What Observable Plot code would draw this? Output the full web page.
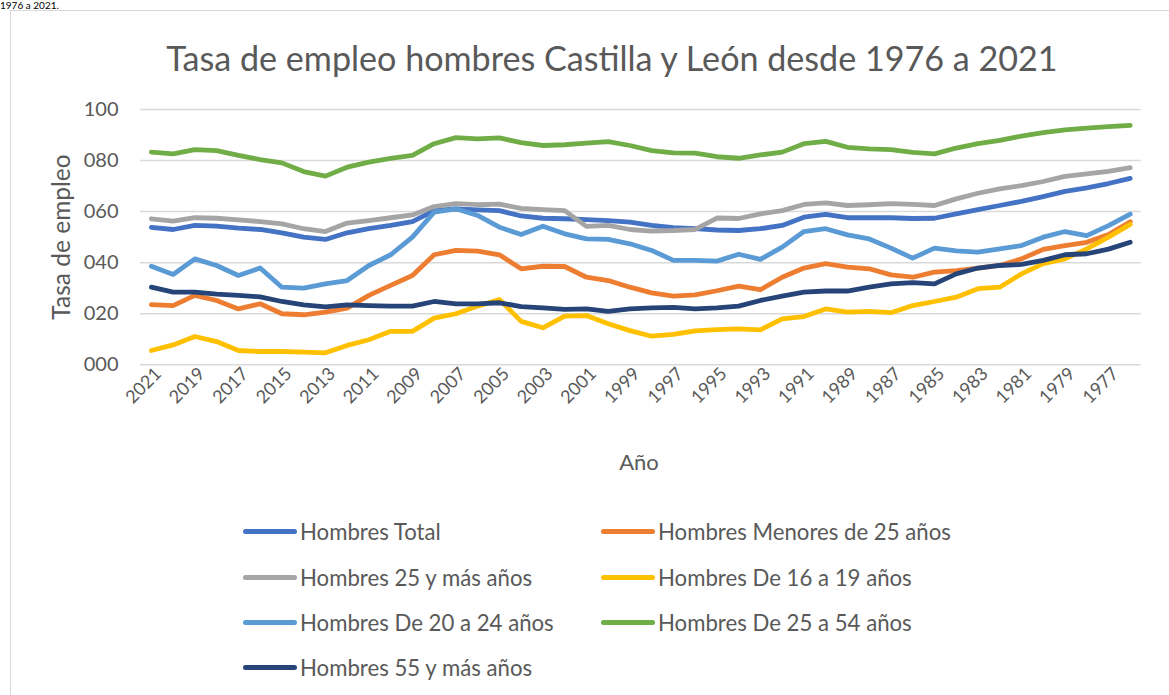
<!DOCTYPE html>
<html>
<head>
<meta charset="utf-8">
<script src="https://cdn.jsdelivr.net/npm/d3@7"></script>
<script src="https://cdn.jsdelivr.net/npm/@observablehq/plot@0.6"></script>
<style>
  body { margin: 0; background: #fff; font-family: Lato, "Open Sans", sans-serif; }
  #wrap { position: relative; width: 1169px; height: 695px; overflow: hidden; background: #fff; }
  #frame { position: absolute; left: 10px; top: 10px; width: 1200px; height: 720px; border: 1px solid #d9d9d9; box-sizing: border-box; }
  #cut { position: absolute; left: 0; top: 0px; font-size: 10px; line-height: 1; color: #000; white-space: nowrap; }
  #title { position: absolute; left: 0; width: 1224px; top: 41px; text-align: center; color: #595959; white-space: nowrap; line-height: 1; }
  #chart { position: absolute; left: 0; top: 90px; }
  #ylab { position: absolute; left: 60px; top: 237px; transform: translate(-50%, -50%) rotate(-90deg); font-size: 24.5px; color: #595959; white-space: nowrap; }
  #xlab { position: absolute; left: 639px; top: 461px; transform: translate(-50%, -50%); font-size: 22px; color: #595959; white-space: nowrap; }
  .leg { position: absolute; display: flex; align-items: center; font-size: 22.2px; color: #595959; white-space: nowrap; }
  .sw { width: 54px; height: 5px; border-radius: 3px; margin-right: 3px; }
</style>
</head>
<body>
<div id="wrap">
  <div id="frame"></div>
  <div id="cut">1976 a 2021.</div>
  <div id="title">Tasa de empleo hombres Castilla y León desde 1976 a 2021</div>
  <div id="chart"></div>
  <div id="ylab">Tasa de empleo</div>
  <div id="xlab">Año</div>
  <div id="legend"></div>
</div>
<script>
// ---- Data ----
const years = d3.range(2021, 1975, -1); // 2021 ... 1976

const seriesNames = [
  "Hombres Total",
  "Hombres Menores de 25 años",
  "Hombres 25 y más años",
  "Hombres De 16 a 19 años",
  "Hombres De 20 a 24 años",
  "Hombres De 25 a 54 años",
  "Hombres 55 y más años"
];

const seriesColors = ["#4472C4", "#ED7D31", "#A5A5A5", "#FFC000", "#5B9BD5", "#70AD47", "#264478"];

const total = [53.8, 53.0, 54.6, 54.3, 53.5, 53.0, 51.7, 50.0, 49.1, 51.7, 53.3, 54.6, 56.1, 60.4, 61.1, 60.7, 60.4, 58.3, 57.4, 57.2, 56.9, 56.5, 55.9, 54.6, 53.7, 53.3, 52.8, 52.6, 53.3, 54.6, 57.8, 58.9, 57.6, 57.6, 57.6, 57.3, 57.4, 59.1, 60.8, 62.4, 64.0, 65.9, 67.9, 69.3, 71.0, 73.0];

const menores25 = [23.6, 23.2, 27.2, 25.2, 21.9, 23.9, 20.0, 19.6, 20.6, 22.2, 27.2, 31.1, 35.0, 43.1, 44.8, 44.5, 43.1, 37.6, 38.6, 38.5, 34.3, 33.0, 30.4, 28.2, 26.9, 27.4, 29.0, 30.8, 29.4, 34.3, 37.9, 39.6, 38.3, 37.6, 35.2, 34.3, 36.3, 36.9, 37.9, 38.9, 41.5, 45.2, 46.7, 48.0, 51.0, 56.0];

const mas25 = [57.2, 56.3, 57.6, 57.4, 56.8, 56.1, 55.2, 53.3, 52.2, 55.5, 56.5, 57.6, 58.7, 62.0, 63.1, 62.7, 62.9, 61.3, 60.8, 60.4, 54.2, 54.6, 53.0, 52.4, 52.6, 53.0, 57.5, 57.3, 59.1, 60.4, 62.8, 63.4, 62.4, 62.7, 63.1, 62.8, 62.4, 65.0, 67.2, 68.9, 70.2, 71.8, 73.8, 74.8, 75.8, 77.2];

const de16a19 = [5.6, 7.8, 11.1, 9.1, 5.6, 5.2, 5.2, 5.0, 4.7, 7.6, 9.8, 13.1, 13.1, 18.3, 20.0, 23.0, 25.6, 17.0, 14.5, 19.1, 19.3, 16.1, 13.4, 11.2, 11.9, 13.3, 13.8, 14.1, 13.7, 18.0, 18.9, 21.9, 20.6, 20.9, 20.4, 23.2, 24.8, 26.5, 29.8, 30.4, 35.6, 39.6, 41.5, 45.4, 50.0, 55.0];

const de20a24 = [38.6, 35.4, 41.5, 38.9, 35.0, 37.9, 30.4, 30.0, 31.7, 33.0, 38.9, 43.1, 50.0, 59.8, 61.1, 58.5, 53.9, 51.0, 54.3, 51.3, 49.3, 49.1, 47.4, 44.8, 40.9, 40.9, 40.6, 43.3, 41.3, 46.1, 52.2, 53.3, 50.9, 49.3, 45.7, 41.8, 45.7, 44.6, 44.1, 45.4, 46.7, 50.0, 52.2, 50.6, 54.5, 59.0];

const de25a54 = [83.3, 82.6, 84.3, 83.9, 82.0, 80.4, 79.1, 75.7, 73.9, 77.4, 79.4, 80.9, 82.0, 86.6, 89.0, 88.5, 88.9, 87.0, 85.9, 86.2, 86.8, 87.4, 85.9, 83.9, 83.0, 82.9, 81.5, 80.9, 82.2, 83.3, 86.6, 87.5, 85.2, 84.6, 84.3, 83.2, 82.6, 84.9, 86.6, 87.9, 89.6, 90.9, 92.0, 92.7, 93.3, 93.8];

const mas55 = [30.4, 28.5, 28.5, 27.7, 27.2, 26.6, 24.8, 23.5, 22.7, 23.5, 23.2, 23.0, 23.0, 24.8, 23.9, 23.9, 24.3, 22.8, 22.3, 21.7, 21.9, 20.9, 21.9, 22.3, 22.5, 21.9, 22.3, 23.0, 25.2, 26.9, 28.5, 28.9, 28.9, 30.4, 31.7, 32.2, 31.7, 35.6, 37.9, 38.9, 39.3, 40.9, 43.1, 43.5, 45.3, 48.0];

const yTicks = [0, 20, 40, 60, 80, 100];
const xTicks = years.filter(y => (2021 - y) % 2 === 0);

// ---- Build long table for Plot ----
const seriesValues = [total, menores25, mas25, de16a19, de20a24, de25a54, mas55];
const rows = [];
seriesNames.forEach((name, s) => {
  years.forEach((yr, i) => rows.push({ serie: name, year: yr, value: seriesValues[s][i] }));
});

// ---- Title sizing (fit to reference width) ----
(function fitTitle() {
  const el = document.getElementById("title");
  const ctx = document.createElement("canvas").getContext("2d");
  ctx.font = "100px Lato";
  const w = ctx.measureText(el.textContent).width;
  el.style.fontSize = (100 * 893 / w).toFixed(2) + "px";
})();

// ---- Chart ----
const chart = Plot.plot({
  width: 1169,
  height: 350,
  marginLeft: 140,
  marginRight: 28.4,
  marginTop: 19,
  marginBottom: 75.7,
  style: { fontFamily: "Lato, sans-serif", color: "#595959", background: "transparent", overflow: "visible" },
  x: { type: "point", domain: years, padding: 0.5 },
  y: { domain: [0, 100] },
  color: { domain: seriesNames, range: seriesColors },
  marks: [
    Plot.gridY(yTicks, { stroke: "#d9d9d9", strokeOpacity: 1, strokeWidth: 1.5 }),
    Plot.axisY(yTicks, { tickSize: 0, tickPadding: 22, tickFormat: d3.format("03d"), fontSize: 20, label: null }),
    Plot.axisX(xTicks, { tickSize: 0, tickPadding: 6, tickRotate: -45, tickFormat: d => String(d), fontSize: 18, dx: 7, label: null }),
    Plot.line(rows, {
      x: "year", y: "value", z: "serie", stroke: "serie",
      strokeWidth: 4.8, strokeLinecap: "round", strokeLinejoin: "round"
    })
  ]
});
document.getElementById("chart").appendChild(chart);

// ---- Legend ----
const legendPos = [
  [243, 531], [601, 531],
  [243, 577], [601, 577],
  [243, 622], [601, 622],
  [243, 667]
];
const legend = document.getElementById("legend");
seriesNames.forEach((name, i) => {
  const item = document.createElement("div");
  item.className = "leg";
  item.style.left = legendPos[i][0] + "px";
  item.style.top = (legendPos[i][1] - 15) + "px";
  item.style.height = "30px";
  const sw = document.createElement("div");
  sw.className = "sw";
  sw.style.background = seriesColors[i];
  const tx = document.createElement("span");
  tx.textContent = name;
  item.appendChild(sw);
  item.appendChild(tx);
  legend.appendChild(item);
});
</script>
</body>
</html>
